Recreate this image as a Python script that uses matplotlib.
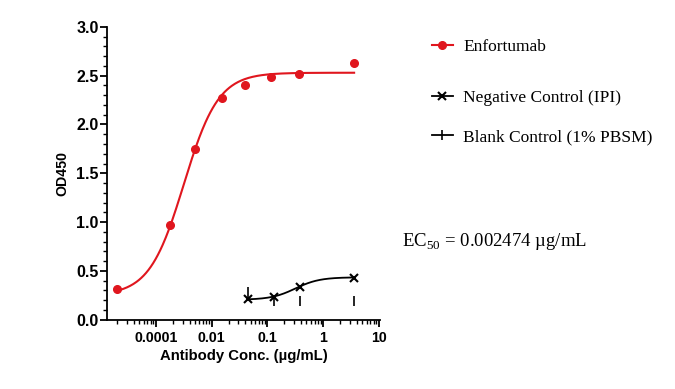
import matplotlib
matplotlib.use("Agg")
import matplotlib.pyplot as plt
from matplotlib.ticker import FixedLocator, LogLocator, NullFormatter, MultipleLocator
from matplotlib.lines import Line2D
import numpy as np

# data (x in ug/mL)
enf_x = [0.000196, 0.00179, 0.00505, 0.0153, 0.040, 0.117, 0.366, 3.59]
enf_y = [0.31, 0.97, 1.745, 2.267, 2.40, 2.49, 2.52, 2.625]
neg_x = [0.044, 0.130, 0.378, 3.59]
neg_y = [0.209, 0.229, 0.332, 0.43]
blank_x = [0.044, 0.130, 0.378, 3.59]
blank_y = [0.287, 0.195, 0.192, 0.192]

# 4PL fit parameters (bottom, top, logEC50, hill) as seen in the chart
enf_fit = [0.25, 2.53, -2.5, 1.4]
neg_fit = [0.205, 0.435, -0.5, 2.0]

xtick_pos = [1e-3, 1e-2, 1e-1, 1, 10]
xtick_lab = ["0.0001", "0.01", "0.1", "1", "10"]
ytick_pos = [0.0, 0.5, 1.0, 1.5, 2.0, 2.5, 3.0]

red = "#e0161e"


def fourpl(x, p):
    b, t, lec, h = p
    return b + (t - b) / (1 + 10 ** ((lec - np.log10(x)) * h))


plt.rcParams['font.family'] = ['Liberation Sans', 'DejaVu Sans']
plt.rcParams['mathtext.fontset'] = 'custom'
plt.rcParams['mathtext.rm'] = 'Liberation Serif'

fig = plt.figure(figsize=(6.75, 3.89), dpi=100)
ax = fig.add_axes([0.1585, 0.178, 0.4045, 0.753])

xs = np.logspace(np.log10(enf_x[0]), np.log10(enf_x[-1]), 300)
ax.plot(xs, fourpl(xs, enf_fit), color=red, lw=1.5)
ax.plot(enf_x, enf_y, 'o', color=red, ms=5.5, clip_on=False)

xs2 = np.logspace(np.log10(neg_x[0]), np.log10(neg_x[-1]), 200)
ax.plot(xs2, fourpl(xs2, neg_fit), color='k', lw=1.3)
ax.plot(neg_x, neg_y, 'x', color='k', ms=6, mew=1.5)
ax.plot(blank_x, blank_y, '|', color='k', ms=7, mew=1.2)

ax.set_xscale('log')
ax.set_xlim(10 ** -3.88, 10 ** 1.02)
ax.set_ylim(0, 3.0)
ax.xaxis.set_major_locator(FixedLocator(xtick_pos))
ax.set_xticklabels(xtick_lab)
ax.xaxis.set_minor_locator(LogLocator(base=10, subs=np.arange(2, 10)))
ax.xaxis.set_minor_formatter(NullFormatter())
ax.set_yticks(ytick_pos)
ax.set_yticklabels([f"{v:.1f}" for v in ytick_pos])
ax.yaxis.set_minor_locator(MultipleLocator(0.1))

for s in ['top', 'right']:
    ax.spines[s].set_visible(False)
for s in ['left', 'bottom']:
    ax.spines[s].set_linewidth(1.3)
ax.tick_params(which='major', direction='out', length=5, width=1.3)
ax.tick_params(which='minor', direction='out', length=3, width=1.0)
ax.tick_params(axis='y', which='major', labelsize=11.5, pad=1)
ax.tick_params(axis='x', which='major', labelsize=10.2, pad=3)
for lab in ax.get_xticklabels() + ax.get_yticklabels():
    lab.set_fontweight('bold')

ax.set_xlabel('Antibody Conc. (µg/mL)', fontsize=10.7, fontweight='bold', labelpad=3)
ax.set_ylabel('OD450', fontsize=10.2, fontweight='bold', labelpad=5)

# legend entries, one per row (rows are unevenly spaced in the original)
entries = [
    (Line2D([], [], color=red, marker='o', ms=5.5, lw=1.5), 'Enfortumab', 0.879),
    (Line2D([], [], color='k', marker='x', ms=6, mew=1.5, lw=1.3), 'Negative Control (IPI)', 0.748),
    (Line2D([], [], color='k', marker='|', ms=7, mew=1.2, lw=1.3), 'Blank Control (1% PBSM)', 0.648),
]
for h, lab, yy in entries:
    fig.legend([h], [lab], loc='center left', bbox_to_anchor=(0.640, yy),
               frameon=False, borderpad=0, borderaxespad=0, handlelength=1.2,
               handletextpad=0.6, prop={'family': 'Liberation Serif', 'size': 12.5})

fig.text(0.596, 0.38, r'EC$_{\mathrm{50}}$ = 0.002474 µg/mL', family='Liberation Serif',
         fontsize=13.5, va='center', ha='left')

fig.savefig('out.png', dpi=100)
